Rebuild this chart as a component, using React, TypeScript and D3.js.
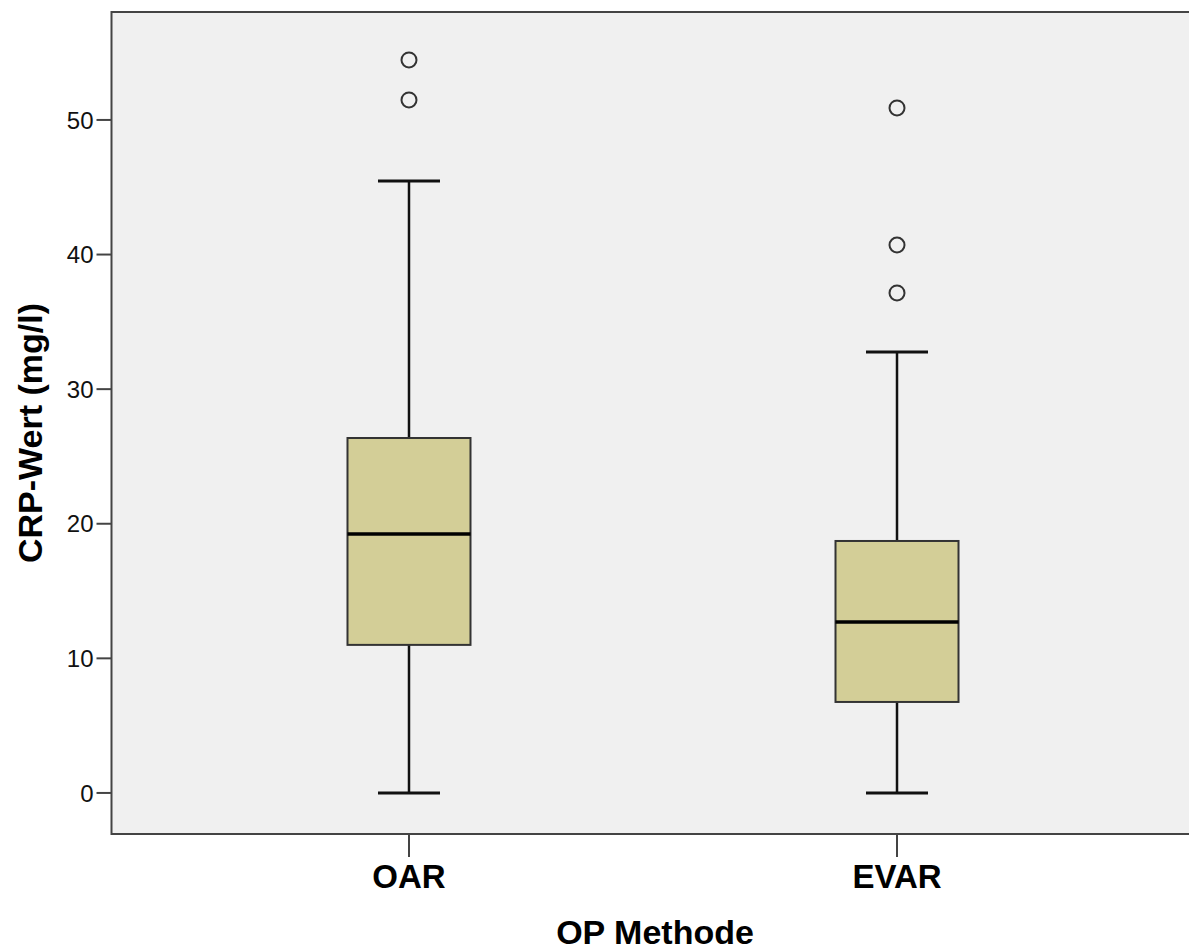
import React from "react";
import * as d3 from "d3";

const categories = ["OAR", "EVAR"];
const whiskerLow = [0, 0];
const q1 = [11.0, 6.76];
const median = [19.24, 12.7];
const q3 = [26.37, 18.72];
const whiskerHigh = [45.47, 32.76];
const outliers: number[][] = [
  [51.49, 54.46],
  [37.15, 40.71, 50.89],
];
const yTicks = [0, 10, 20, 30, 40, 50];

const W = 1189;
const H = 952;
const left = 111.5;
const right = 1194.5;
const top = 12;
const bottom = 834;
const font = "'Liberation Sans', Arial, sans-serif";

export default function App() {
  const x = d3.scalePoint<string>().domain(categories).range([left, right]).padding(0.6096);
  const y = d3.scaleLinear().domain([-3.05, 58.02]).range([bottom, top]);
  const boxW = 123;
  const capW = 62;

  return (
    <svg width={W} height={H} style={{ position: "absolute", left: 0, top: 0, background: "#fff" }}>
      <rect x={left} y={top} width={right + 10 - left} height={bottom - top} fill="#f0f0f0" stroke="#444" strokeWidth={2} />
      {yTicks.map((t) => (
        <g key={t}>
          <line x1={left - 15} x2={left} y1={y(t)} y2={y(t)} stroke="#444" strokeWidth={2} />
          <text x={left - 18} y={y(t)} dy="0.36em" textAnchor="end" fontFamily={font} fontSize={24} fill="#111">
            {t}
          </text>
        </g>
      ))}
      {categories.map((c, i) => {
        const cx = x(c)!;
        return (
          <g key={c}>
            <line x1={cx} x2={cx} y1={bottom} y2={bottom + 23} stroke="#444" strokeWidth={2} />
            <text x={cx} y={888} textAnchor="middle" fontFamily={font} fontWeight="bold" fontSize={33} fill="#000">
              {c}
            </text>
            <line x1={cx} x2={cx} y1={y(whiskerLow[i])} y2={y(q1[i])} stroke="#111" strokeWidth={2.5} />
            <line x1={cx} x2={cx} y1={y(q3[i])} y2={y(whiskerHigh[i])} stroke="#111" strokeWidth={2.5} />
            <line x1={cx - capW / 2} x2={cx + capW / 2} y1={y(whiskerLow[i])} y2={y(whiskerLow[i])} stroke="#111" strokeWidth={3} />
            <line x1={cx - capW / 2} x2={cx + capW / 2} y1={y(whiskerHigh[i])} y2={y(whiskerHigh[i])} stroke="#111" strokeWidth={3} />
            <rect
              x={cx - boxW / 2}
              y={y(q3[i])}
              width={boxW}
              height={y(q1[i]) - y(q3[i])}
              fill="#d3ce97"
              stroke="#333"
              strokeWidth={2}
            />
            <line x1={cx - boxW / 2} x2={cx + boxW / 2} y1={y(median[i])} y2={y(median[i])} stroke="#000" strokeWidth={3.5} />
            {outliers[i].map((o, j) => (
              <circle key={j} cx={cx} cy={y(o)} r={7.5} fill="none" stroke="#333" strokeWidth={2} />
            ))}
          </g>
        );
      })}
      <text
        transform={`translate(42,${(top + bottom) / 2 + 10}) rotate(-90)`}
        textAnchor="middle"
        fontFamily={font}
        fontWeight="bold"
        fontSize={34}
        fill="#000"
      >
        CRP-Wert (mg/l)
      </text>
      <text x={655} y={944} textAnchor="middle" fontFamily={font} fontWeight="bold" fontSize={34} fill="#000">
        OP Methode
      </text>
    </svg>
  );
}
